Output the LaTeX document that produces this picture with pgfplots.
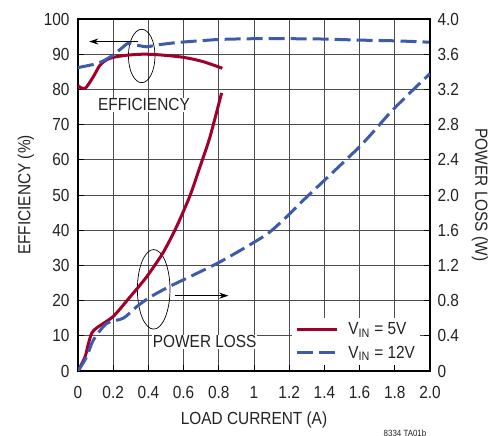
\documentclass[border=0pt]{standalone}
\usepackage{fontspec}
\setmainfont{Liberation Sans}[FakeStretch=0.88]
\usepackage{pgfplots}
\pgfplotsset{compat=1.18}
\usetikzlibrary{arrows.meta}
\definecolor{ltred}{RGB}{160,0,42}
\definecolor{ltblue}{RGB}{61,91,170}
\definecolor{txt}{RGB}{35,35,35}
\begin{document}
\begin{tikzpicture}[font=\fontsize{17.5bp}{20bp}\selectfont, text=txt]
\useasboundingbox (-78bp,-65bp) rectangle (425bp,371bp);
\pgfplotsset{
  common/.style={
    scale only axis, width=352bp, height=352bp,
    xmin=0, xmax=2,
    /pgf/number format/assume math mode=true,
    tick label style={font=\fontsize{17.5bp}{20bp}\selectfont, text=txt},
    label style={font=\fontsize{17.5bp}{20bp}\selectfont, text=txt},
    axis line style={line width=1.5bp, black},
    tick style={black, line width=0.8bp},
    major tick length=6bp, tick align=inside,
  }
}
\begin{axis}[common,
  ymin=0, ymax=100,
  xtick={0,0.2,0.4,0.6,0.8,1,1.2,1.4,1.6,1.8,2},
  xticklabels={0,0.2,0.4,0.6,0.8,1,1.2,1.4,1.6,1.8,2.0},
  ytick={0,10,20,30,40,50,60,70,80,90,100},
  yticklabels={0,10,20,30,40,50,60,70,80,90,100},
  xtick pos=bottom, ytick pos=left,
  xticklabel style={yshift=-12bp},
  yticklabel style={xshift=-5bp},
  grid=major, grid style={black!70, line width=0.8bp},
  xlabel={LOAD CURRENT (A)}, ylabel={EFFICIENCY (\%)},
  xlabel style={yshift=-6bp},
  ylabel style={yshift=3bp},
]
\node[fill=white, inner sep=1bp] at (axis cs:0.375,75.6) {EFFICIENCY};
\node[fill=white, inner sep=1bp] at (axis cs:0.72,8.3) {POWER LOSS};
\draw[black, line width=0.7bp] (axis cs:0.362,89.5) ellipse [x radius=13.3bp, y radius=26.7bp];
\draw[black, line width=0.7bp] (axis cs:0.43,23.2) ellipse [x radius=16.3bp, y radius=39.8bp];
\draw[black, line width=0.8bp, -{Stealth[length=9bp,width=6bp]}] (axis cs:0.343,93.6) -- (axis cs:0.064,93.6);
\draw[black, line width=0.8bp, -{Stealth[length=9bp,width=6bp]}] (axis cs:0.551,21.4) -- (axis cs:0.854,21.4);
\addplot[ltred, line width=3bp, smooth, tension=0.5] coordinates {
(0,81.0)(0.04,80.3)(0.087,83.6)(0.125,86.9)(0.163,88.4)(0.2,89.1)(0.276,89.7)(0.37,90.0)(0.466,89.8)(0.6,89.1)(0.71,87.9)(0.82,86.0)};
\addplot[ltblue, line width=3bp, dash pattern=on 16bp off 6bp, smooth, tension=0.5] coordinates {
(0,86.2)(0.087,87.1)(0.144,88.1)(0.2,89.8)(0.248,91.7)(0.286,93.1)(0.333,92.6)(0.39,92.1)(0.447,92.6)(0.56,93.3)(0.69,93.8)(0.81,94.2)(1.0,94.4)(1.2,94.4)(1.4,94.3)(1.6,94.0)(1.8,93.8)(2.0,93.4)};
\end{axis}
\begin{axis}[common,
  ymin=0, ymax=4,
  axis x line=none, axis y line*=right,
  ytick={0,0.4,0.8,1.2,1.6,2.0,2.4,2.8,3.2,3.6,4.0},
  yticklabels={0,0.4,0.8,1.2,1.6,2.0,2.4,2.8,3.2,3.6,4.0},
  yticklabel style={xshift=4bp},
  ylabel={POWER LOSS (W)}, ylabel style={rotate=180, yshift=6bp},
  legend style={at={(0.972,0.017)}, anchor=south east, draw=none, fill=white,
    font=\fontsize{17.5bp}{20bp}\selectfont, text=txt, row sep=6bp, inner sep=3bp,
    /tikz/every odd column/.append style={column sep=8bp}},
  legend cell align=left,
  legend image code/.code={\draw[#1] (0bp,0bp) -- (40bp,0bp);},
]
\addplot[ltred, line width=3bp, smooth, tension=0.4] coordinates {
(0,0)(0.04,0.16)(0.059,0.31)(0.078,0.43)(0.106,0.49)(0.2,0.62)(0.295,0.84)(0.39,1.07)(0.485,1.35)(0.56,1.64)(0.636,1.99)(0.693,2.32)(0.75,2.66)(0.816,3.16)};
\addlegendentry{V\textsubscript{IN} = 5V}
\addplot[ltblue, line width=3bp, dash pattern=on 16bp off 6bp, smooth, tension=0.5] coordinates {
(0,0)(0.049,0.16)(0.087,0.35)(0.163,0.54)(0.257,0.60)(0.333,0.73)(0.41,0.84)(0.52,0.96)(0.655,1.09)(0.807,1.24)(0.99,1.45)(1.09,1.58)(1.2,1.78)(1.28,1.94)(1.6,2.55)(1.79,2.97)(2.0,3.38)};
\addlegendentry{V\textsubscript{IN} = 12V}
\end{axis}
\node[font=\fontsize{9bp}{10bp}\selectfont] at (327bp,-62bp) {8334 TA01b};
\end{tikzpicture}
\end{document}
